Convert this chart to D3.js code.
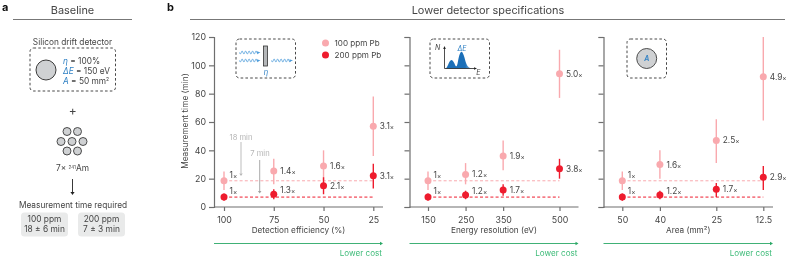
<!DOCTYPE html>
<html>
<head>
<meta charset="utf-8">
<script src="https://d3js.org/d3.v7.min.js"></script>
<style>
  html, body { margin: 0; padding: 0; background: #fff; }
  svg { display: block; will-change: transform; }
  text { font-family: Inter, "Noto Sans", sans-serif; font-weight: 400; fill: #444; }
  .axis text { font-size: 8.8px; fill: #444; }
  .axis path, .axis line { stroke: #6e6e6e; stroke-width: 1.2; }
</style>
</head>
<body>
<div id="chart-area"></div>
<script>
  // Panel b values
  var efficiencyTicks = [100, 75, 50, 25];
  var resolutionTicks = [150, 250, 350, 500];
  var areaTicks = [50, 40, 25, 12.5];
  var yTicks = [0, 20, 40, 60, 80, 100, 120];

  var eff100 = [18.5, 25.5, 29, 57];
  var eff100Lo = [12, 16, 19, 36];
  var eff100Hi = [25, 34, 40, 78];
  var eff200 = [7, 9, 15, 22];
  var eff200Lo = [4.5, 5.5, 9, 13];
  var eff200Hi = [9.5, 12.5, 21, 30.5];
  var eff100Labels = ['1', '1.4', '1.6', '3.1'];
  var eff200Labels = ['1', '1.3', '2.1', '3.1'];

  var res100 = [18.5, 23, 36, 94];
  var res100Lo = [12, 16, 26, 77];
  var res100Hi = [25, 31, 47, 111];
  var res200 = [7, 8.5, 12, 27];
  var res200Lo = [4.5, 5.5, 8, 20];
  var res200Hi = [9.5, 11.5, 16, 34];
  var res100Labels = ['1', '1.2', '1.9', '5.0'];
  var res200Labels = ['1', '1.2', '1.7', '3.8'];

  var area100 = [18.5, 30, 47, 92];
  var area100Lo = [12, 20, 31, 61];
  var area100Hi = [25, 40, 62, 120];
  var area200 = [7, 8.5, 12.5, 21];
  var area200Lo = [4.5, 5.5, 7, 12];
  var area200Hi = [9.5, 11.5, 17, 29];
  var area100Labels = ['1', '1.6', '2.5', '4.9'];
  var area200Labels = ['1', '1.2', '1.7', '2.9'];

  var pink = '#f9a9ae', red = '#ee1c2e', blue = '#2f80c4', green = '#2aa866', grey = '#cfd1d3';

  var svg = d3.select('#chart-area').append('svg')
      .attr('width', 793)
      .attr('height', 261);

  var defs = svg.append('defs');
  var grad = defs.append('linearGradient').attr('id', 'peak').attr('x1', 0).attr('x2', 1).attr('y1', 0).attr('y2', 0);
  grad.append('stop').attr('offset', '0.72').attr('stop-color', '#1b6fb8');
  grad.append('stop').attr('offset', '1').attr('stop-color', '#a9cbe8');

  function label(parent, x, y, str, size, anchor, color) {
    return parent.append('text')
      .attr('x', x)
      .attr('y', y)
      .attr('font-size', size)
      .attr('text-anchor', anchor || 'start')
      .style('fill', color || '#444')
      .text(str);
  }

  function dashedBox(x, y, w, h) {
    svg.append('rect')
      .attr('x', x).attr('y', y).attr('width', w).attr('height', h)
      .attr('rx', 3.5)
      .attr('fill', 'none')
      .attr('stroke', '#333')
      .attr('stroke-width', 0.9)
      .attr('stroke-dasharray', '2.6,2.2');
  }

  function detector(x, y, r, sw) {
    svg.append('circle')
      .attr('cx', x).attr('cy', y).attr('r', r)
      .attr('fill', grey)
      .attr('stroke', '#3a3a3a')
      .attr('stroke-width', sw);
  }

  /******** panel letters and headers ********/
  label(svg, 2, 10.5, 'a', 11).style('font-weight', 700).style('fill', '#111');
  label(svg, 167, 10.5, 'b', 11).style('font-weight', 700).style('fill', '#111');
  label(svg, 72.5, 14, 'Baseline', 10.9, 'middle');
  label(svg, 488, 14, 'Lower detector specifications', 10.9, 'middle');
  svg.append('line').attr('x1', 13).attr('x2', 132).attr('y1', 19.5).attr('y2', 19.5).attr('stroke', '#777');
  svg.append('line').attr('x1', 190).attr('x2', 785).attr('y1', 19.5).attr('y2', 19.5).attr('stroke', '#777');

  /******** panel a ********/
  label(svg, 72.5, 44.7, 'Silicon drift detector', 8.3, 'middle');
  dashedBox(30, 48, 85.5, 43);
  detector(46, 70, 10, 1);
  function spec(y, sym, rest) {
    var t = label(svg, 63, y, '', 8.3);
    t.append('tspan').style('fill', blue).style('font-style', 'italic').text(sym);
    t.append('tspan').text(rest);
    return t;
  }
  spec(63.7, 'η', ' = 100%');
  spec(73.7, 'ΔE', ' = 150 eV');
  var areaSpec = spec(84, 'A', ' = 50 mm');
  areaSpec.append('tspan').attr('dy', -3).attr('font-size', 5).text('2');
  label(svg, 72.7, 115, '+', 12, 'middle');

  var sourceRows = [[67, 131.5], [77.5, 131.5], [61, 141.5], [72, 141.5], [83, 141.5], [67, 151], [77.5, 151]];
  sourceRows.forEach(function(p) { detector(p[0], p[1], 4, 0.9); });

  var amLabel = label(svg, 72.5, 171, '', 8.3, 'middle');
  amLabel.append('tspan').text('7× ');
  amLabel.append('tspan').attr('dy', -2.5).attr('font-size', 4.5).text('241');
  amLabel.append('tspan').attr('dy', 2.5).text('Am');

  function arrow(x, y1, y2, color, sw, head) {
    svg.append('line').attr('x1', x).attr('x2', x).attr('y1', y1).attr('y2', y2 - head)
      .attr('stroke', color).attr('stroke-width', sw);
    svg.append('path')
      .attr('d', 'M' + (x - head * 0.7) + ',' + (y2 - head) + 'L' + (x + head * 0.7) + ',' + (y2 - head) + 'L' + x + ',' + y2 + 'Z')
      .attr('fill', color);
  }
  arrow(72.5, 179, 195, '#222', 0.9, 3);
  label(svg, 73, 207.7, 'Measurement time required', 8.3, 'middle');

  var baselineBoxes = [
    {x: 21, top: '100 ppm', bottom: '18 ± 6 min'},
    {x: 78, top: '200 ppm', bottom: '7 ± 3 min'}
  ];
  baselineBoxes.forEach(function(b) {
    svg.append('rect').attr('x', b.x).attr('y', 212.5).attr('width', 47).attr('height', 24)
      .attr('rx', 3.5).attr('fill', '#e9eaea');
    label(svg, b.x + 23.5, 222, b.top, 8.4, 'middle');
    label(svg, b.x + 23.5, 232.3, b.bottom, 8.4, 'middle');
  });

  /******** panel b ********/
  var y = d3.scaleLinear().domain([0, 120]).range([207, 37]);

  var panels = [
    {title: 'Detection efficiency (%)', axisX: 214, endX: 383, domain: [100, 25], range: [224, 373.3], ticks: efficiencyTicks,
     m100: eff100, lo100: eff100Lo, hi100: eff100Hi, m200: eff200, lo200: eff200Lo, hi200: eff200Hi, l100: eff100Labels, l200: eff200Labels, yLabels: true},
    {title: 'Energy resolution (eV)', axisX: 409.5, endX: 578.5, domain: [150, 500], range: [428, 559.5], ticks: resolutionTicks,
     m100: res100, lo100: res100Lo, hi100: res100Hi, m200: res200, lo200: res200Lo, hi200: res200Hi, l100: res100Labels, l200: res200Labels},
    {title: 'Area (mm²)', axisX: 603.5, endX: 773, domain: [50, 12.5], range: [622.3, 763.3], ticks: areaTicks,
     m100: area100, lo100: area100Lo, hi100: area100Hi, m200: area200, lo200: area200Lo, hi200: area200Hi, l100: area100Labels, l200: area200Labels}
  ];

  panels.forEach(function(p) {
    var x = d3.scaleLinear().domain(p.domain).range(p.range);
    var g = svg.append('g');

    // Axes
    var xAxisCall = d3.axisBottom(x).tickValues(p.ticks).tickSize(4).tickPadding(6).tickFormat(function(d) { return d; });
    var xAxis = g.append('g').attr('class', 'axis').attr('transform', 'translate(0,' + y(0) + ')').call(xAxisCall);
    xAxis.select('.domain').attr('d', 'M' + p.axisX + ',0H' + p.endX);

    var yAxisCall = d3.axisLeft(y).tickValues(yTicks).tickSize(5).tickPadding(3).tickFormat(function(d) { return p.yLabels ? d : ''; });
    g.append('g').attr('class', 'axis').attr('transform', 'translate(' + p.axisX + ',0)').call(yAxisCall);

    label(g, (p.axisX + p.endX) / 2, 233.3, p.title, 8.2, 'middle');

    // Baseline dashes
    [[p.m100[0], pink], [p.m200[0], red]].forEach(function(b) {
      g.append('line')
        .attr('x1', x(p.ticks[0])).attr('x2', x(p.ticks[3]))
        .attr('y1', y(b[0])).attr('y2', y(b[0]))
        .attr('stroke', b[1]).attr('stroke-width', 1)
        .attr('stroke-dasharray', '3,2.2');
    });

    // Points with their ranges
    function series(m, lo, hi, labels, color) {
      p.ticks.forEach(function(t, i) {
        g.append('line')
          .attr('x1', x(t)).attr('x2', x(t))
          .attr('y1', y(lo[i])).attr('y2', y(hi[i]))
          .attr('stroke', color).attr('stroke-width', 1.4);
        g.append('circle')
          .attr('cx', x(t)).attr('cy', y(m[i])).attr('r', 3.5)
          .attr('fill', color);
        // labels near the baseline dashes sit a bit higher so they clear them
        var up = i == 0 ? 6 : (m[i] < 10 ? 4 : 0);
        var t2 = label(g, x(t) + (i == 0 ? 5.5 : 6.5), y(m[i]) + 3 - up, labels[i], 8.3);
        t2.append('tspan').attr('font-size', 6.5).text('×');
      });
    }
    series(p.m100, p.lo100, p.hi100, p.l100, pink);
    series(p.m200, p.lo200, p.hi200, p.l200, red);

    // Lower cost arrow
    g.append('line').attr('x1', p.axisX).attr('x2', p.endX - 2).attr('y1', 243.5).attr('y2', 243.5)
      .attr('stroke', green).attr('stroke-width', 0.9);
    g.append('path')
      .attr('d', 'M' + (p.endX - 3) + ',241.8L' + p.endX + ',243.5L' + (p.endX - 3) + ',245.2Z')
      .attr('fill', green);
    label(g, p.endX - 1, 256, 'Lower cost', 8.1, 'end', '#3dbb78');
  });

  label(svg, 188, 0, 'Measurement time (min)', 8.3, 'middle')
    .attr('transform', 'translate(0,121) rotate(-90,188,0)');

  // Baseline notes in the first panel
  label(svg, 241, 140, '18 min', 7.6, 'middle', '#b5b5b5');
  arrow(241, 142, 176, '#b5b5b5', 0.9, 2.5);
  label(svg, 260, 155.5, '7 min', 7.6, 'middle', '#b5b5b5');
  arrow(259.7, 160, 193.5, '#a0a0a0', 0.9, 2.5);

  // Legend
  [['100 ppm Pb', pink, 43], ['200 ppm Pb', red, 55]].forEach(function(l) {
    svg.append('circle').attr('cx', 325.5).attr('cy', l[2]).attr('r', 3.5).attr('fill', l[1]);
    label(svg, 334.5, l[2] + 3, l[0], 8.1);
  });

  /******** insets ********/
  dashedBox(236, 39, 59.5, 39);
  svg.append('rect').attr('x', 263.5).attr('y', 46).attr('width', 4).attr('height', 20)
    .attr('fill', '#b5b7b9').attr('stroke', '#333').attr('stroke-width', 0.8);
  function wave(x0, x1, yy) {
    var pts = d3.range(x0, x1 - 2, 0.4);
    var wline = d3.line().x(function(d) { return d; }).y(function(d) { return yy + 1.5 * Math.sin((d - x0) * 1.8); });
    svg.append('path').attr('d', wline(pts)).attr('fill', 'none').attr('stroke', '#4f9ddb').attr('stroke-width', 0.8);
    svg.append('path').attr('d', 'M' + x1 + ',' + yy + 'l-3.5,-1.3v2.6Z').attr('fill', '#4f9ddb');
  }
  wave(239.5, 260.5, 52.5);
  wave(239.5, 260.5, 60.5);
  wave(271.5, 293, 60.5);
  label(svg, 266, 74.5, 'η', 7.5, 'middle', blue).style('font-style', 'italic');

  dashedBox(430, 39, 59.5, 39);
  var peakArea = d3.area().x(function(d) { return d[0]; }).y0(68.5).y1(function(d) { return d[1]; }).curve(d3.curveBasis);
  var peakPts = [[445, 68.5], [447, 68], [449, 62], [451.5, 59], [454, 62], [456, 67.5], [457.5, 65], [459, 55], [461.5, 50], [464, 55], [466, 64], [469, 68], [473, 68.5]];
  svg.append('path').attr('d', peakArea(peakPts)).attr('fill', 'url(#peak)');
  svg.append('path').attr('d', 'M444.5,47V68.5H476').attr('fill', 'none').attr('stroke', '#222').attr('stroke-width', 0.8);
  svg.append('path').attr('d', 'M444.5,46l-1.3,3h2.6Z').attr('fill', '#222');
  svg.append('path').attr('d', 'M477,68.5l-3,-1.3v2.6Z').attr('fill', '#222');
  label(svg, 437.7, 50.3, 'N', 7, 'middle').style('font-style', 'italic');
  label(svg, 478.3, 75.3, 'E', 7, 'middle').style('font-style', 'italic');
  label(svg, 462, 50.5, 'ΔE', 7, 'middle', blue).style('font-style', 'italic');

  dashedBox(627, 39, 39.5, 39);
  detector(646.7, 58.5, 10, 0.9);
  label(svg, 646.7, 61, 'A', 7, 'middle', blue).style('font-style', 'italic').style('font-weight', 600);
</script>
</body>
</html>
